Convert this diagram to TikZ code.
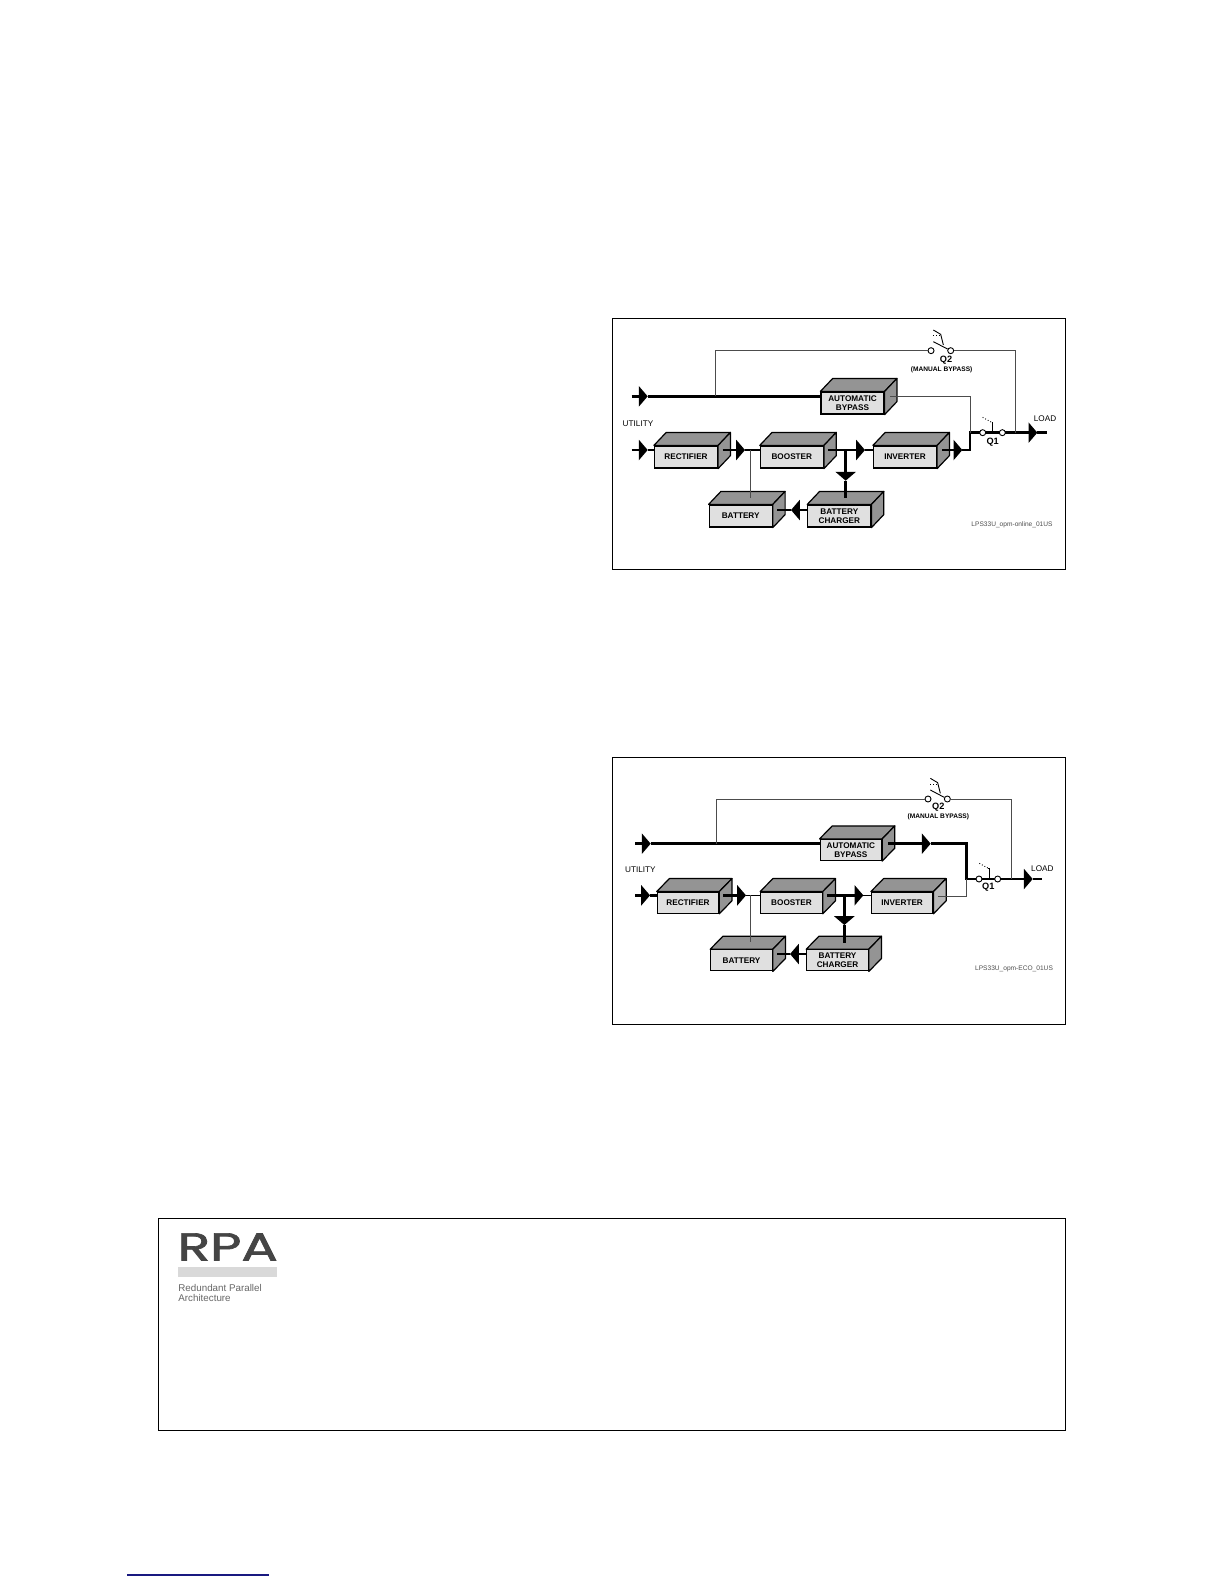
\documentclass[tikz,border=0pt]{standalone}
\usepackage{fontspec}
\setmainfont{Liberation Sans}
\newfontfamily\logofont[FakeBold=1.6]{Poppins}
\usepackage{xcolor}
\definecolor{boxdark}{gray}{0.58}
\definecolor{boxside}{gray}{0.72}
\definecolor{boxfront}{gray}{0.88}
\definecolor{thingray}{gray}{0.3}
\definecolor{logobar}{gray}{0.85}
\definecolor{logotext}{gray}{0.27}
\definecolor{logosmall}{gray}{0.4}
\definecolor{linkblue}{rgb}{0.1,0.1,0.5}
\usepackage{tikz}
\usetikzlibrary{arrows.meta,calc}

\tikzset{
    upsbox/.style={draw=black, line width=0.6pt, fill=boxfront, inner sep=0pt, align=center,
        font=\fontsize{4.1}{4.6}\selectfont\bfseries},
    boxskin/.style={draw=black, line width=0.6pt, line join=round},
    powerline/.style={line width=1.3pt, line join=miter},
    midline/.style={line width=0.75pt},
    signalline/.style={line width=0.45pt, draw=thingray},
    flowtip/.style={-{Triangle[length=4.4pt,width=10pt,sep=0pt]}},
    switchring/.style={circle, draw=black, line width=0.45pt, fill=white, minimum size=3pt, inner sep=0pt},
    lever/.style={line width=0.45pt},
    tinylabel/.style={inner sep=0pt, font=\fontsize{4.1}{4.6}\selectfont},
    boldlabel/.style={inner sep=0pt, font=\fontsize{4.6}{5}\selectfont\bfseries},
    smallbold/.style={inner sep=0pt, font=\fontsize{3.3}{4}\selectfont\bfseries},
    filelabel/.style={inner sep=0pt, text=thingray, font=\fontsize{3.3}{4}\selectfont},
    zoomcoords/.style={x=0.16667pt, y=-0.16667pt}
}

% box with its top and side faces: [side colour]{name}{x}{y}{text}
\newcommand{\upsbox}[5][boxdark]{
    \node[upsbox, boxsize] (#2) at (#3,#4) {#5};
    \draw[boxskin, fill=boxdark] (#2.north west) -- ++(\boxdx,-39) -- ($(#2.north east)+(\boxdx,-39)$)
        -- (#2.north east) -- cycle;
    \draw[boxskin, fill=#1] (#2.north east) -- ++(\boxdx,-39) -- ($(#2.south east)+(\boxdx,-39)$)
        -- (#2.south east) -- cycle;
}

\begin{document}
\begin{tikzpicture}[x=0.5pt, y=-0.5pt]
    \useasboundingbox (0,0) rectangle (1224,1584);

    % Frames and link rule
    \draw[line width=0.5pt] (612.7,318.3) rectangle (1065.7,569.7);
    \draw[line width=0.5pt] (612.7,757.7) rectangle (1065.7,1024.3);
    \draw[line width=0.5pt] (158.3,1218.3) rectangle (1065.7,1430);
    \draw[line width=0.6pt, linkblue] (127,1575) -- (269,1575);

    % RPA logo
    \fill[logobar] (178.3,1266.7) rectangle (277.3,1277.3);
    \node[anchor=base west, inner sep=0pt, xscale=1.38, text=logotext, font=\fontsize{19.5}{20}\logofont\selectfont] (logoName) at (177,1260.5) {RPA};
    \node[anchor=west, inner sep=0pt, text=logosmall, align=left, font=\fontsize{4.9}{5.4}\selectfont] (logoText) at (178,1293) {Redundant Parallel\\Architecture};

    % Online mode
    \begin{scope}[shift={(610,315)}, zoomcoords,
        boxsize/.style={minimum width=31.5pt, minimum height=11pt}]
        \def\boxdx{37}
        \upsbox{bypassA}{727.5}{264}{AUTOMATIC\\BYPASS}
        \upsbox{rectA}{228}{426}{RECTIFIER}
        \upsbox{boostA}{545.5}{426}{BOOSTER}
        \upsbox{invA}{885}{426}{INVERTER}
        \upsbox{battA}{392}{603}{BATTERY}
        \upsbox{chargeA}{688}{603}{BATTERY\\CHARGER}

        \coordinate (inTopA) at (65,244);
        \coordinate (tipTopA) at (113,244);
        \coordinate (inLowA) at (65,405);
        \coordinate (tipLowA) at (113,405);
        \coordinate (rectOutA) at (338,405);
        \coordinate (tipRectA) at (405,405);
        \coordinate (boostOutA) at (655,405);
        \coordinate (tipBoostA) at (765,405);
        \coordinate (invOutA) at (997,405);
        \coordinate (tipInvA) at (1057,405);
        \coordinate (riseA) at (1080,353);
        \coordinate (tipLoadA) at (1282,353);
        \coordinate (loadA) at (1310,353);
        \coordinate (forkA) at (707,405);
        \coordinate (tipForkA) at (707,497);
        \coordinate (chargeTopA) at (707,550);
        \coordinate (battTopA) at (420,550);
        \coordinate (chargeOutA) at (594,585);
        \coordinate (tipChargeA) at (543,585);
        \coordinate (battOutA) at (500,585);
        \coordinate (bypassOutA) at (840,244);
        \coordinate (tapA) at (315,244);
        \coordinate (q1PosA) at (1118,353);
        \coordinate (q1EndA) at (1177,353);
        \coordinate (junctionA) at (1217,353);

        \draw[powerline, flowtip] (inTopA) -- (tipTopA);
        \draw[powerline] (tipTopA) -- (tipTopA -| bypassA.west);
        \draw[powerline, flowtip] (inLowA) -- (tipLowA);
        \draw[powerline] (tipLowA) -- (tipLowA -| rectA.west);
        \draw[powerline, flowtip] (rectOutA) -- (tipRectA);
        \draw[midline] (tipRectA) -- (tipRectA -| boostA.west);
        \draw[powerline, flowtip] (boostOutA) -- (tipBoostA);
        \draw[midline] (tipBoostA) -- (tipBoostA -| invA.west);
        \draw[powerline, flowtip] (invOutA) -- (tipInvA);
        \draw[powerline, flowtip] (forkA) -- (tipForkA);
        \draw[powerline] (tipForkA) -- (chargeTopA);
        \draw[powerline, flowtip] (chargeOutA) -- (tipChargeA);
        \draw[powerline] (tipChargeA) -- (battOutA);
        \draw[signalline] (tipRectA -| battTopA) -- (battTopA);
        \draw[powerline] (tipInvA) -- (riseA |- tipInvA) -- (riseA) -- (q1EndA) -- (junctionA);
        \draw[powerline, flowtip] (junctionA) -- (tipLoadA);
        \draw[powerline] (tipLoadA) -- (loadA);
        \draw[signalline] (bypassOutA) -- (bypassOutA -| riseA) -- (riseA);

        % Switches
        \node[switchring] (q2aA) at (963,107) {};
        \node[switchring] (q2bA) at (1022,107) {};
        \node[switchring] (q1aA) at (q1PosA) {};
        \node[switchring] (q1bA) at (q1EndA) {};
        \draw[signalline] (tapA) -- (tapA |- q2aA) -- (q2aA);
        \draw[signalline] (q2bA) -- (q2bA -| junctionA) -- (junctionA);
        \draw[lever] (970,80) -- (q2bA);
        \draw[lever] (970,45) -- (992,58) -- (1000,90);
        \draw[lever, densely dotted] (970,62) -- (990,62);
        \draw[lever, densely dotted] (1118,307) -- (1145,322);
        \draw[lever] (1145,322) -- (1148,322) -- (1148,350);

        % Labels
        \node[tinylabel] (utilityA) at (84,325) {UTILITY};
        \node[tinylabel] (loadTextA) at (1305,310) {LOAD};
        \node[boldlabel] (q1TextA) at (1148,382) {Q1};
        \node[boldlabel] (q2TextA) at (1008,137) {Q2};
        \node[smallbold] (manualA) at (995,163) {(MANUAL BYPASS)};
        \node[filelabel] (fileA) at (1206,628) {LPS33U\_opm-online\_01US};
    \end{scope}

    % ECO mode
    \begin{scope}[shift={(610,755)}, zoomcoords,
        boxsize/.style={minimum width=30.7pt, minimum height=10.5pt}]
        \def\boxdx{38}
        \upsbox{bypassB}{722.5}{285}{AUTOMATIC\\BYPASS}
        \upsbox{rectB}{234}{443}{RECTIFIER}
        \upsbox{boostB}{544.5}{443}{BOOSTER}
        \upsbox[boxside]{invB}{876.5}{443}{INVERTER}
        \upsbox{battB}{394.5}{616}{BATTERY}
        \upsbox{chargeB}{682.5}{616}{BATTERY\\CHARGER}

        \coordinate (inTopB) at (75,266);
        \coordinate (tipTopB) at (122,266);
        \coordinate (bypassOutB) at (835,266);
        \coordinate (tipBypassB) at (962,266);
        \coordinate (dropB) at (1070,372);
        \coordinate (inLowB) at (75,421);
        \coordinate (tipLowB) at (120,421);
        \coordinate (rectOutB) at (340,421);
        \coordinate (tipRectB) at (408,421);
        \coordinate (boostOutB) at (652,421);
        \coordinate (tipBoostB) at (760,421);
        \coordinate (invOutB) at (985,423);
        \coordinate (forkB) at (703,421);
        \coordinate (tipForkB) at (703,510);
        \coordinate (chargeTopB) at (703,565);
        \coordinate (battTopB) at (420,562);
        \coordinate (chargeOutB) at (590,597);
        \coordinate (tipChargeB) at (540,597);
        \coordinate (battOutB) at (502,597);
        \coordinate (tapB) at (318,266);
        \coordinate (q1PosB) at (1107,372);
        \coordinate (q1EndB) at (1163,372);
        \coordinate (junctionB) at (1203,372);
        \coordinate (tipLoadB) at (1268,372);
        \coordinate (loadB) at (1295,372);

        \draw[powerline, flowtip] (inTopB) -- (tipTopB);
        \draw[powerline] (tipTopB) -- (tipTopB -| bypassB.west);
        \draw[powerline, flowtip] (bypassOutB) -- (tipBypassB);
        \draw[powerline, flowtip] (inLowB) -- (tipLowB);
        \draw[powerline] (tipLowB) -- (tipLowB -| rectB.west);
        \draw[powerline, flowtip] (rectOutB) -- (tipRectB);
        \draw[midline] (tipRectB) -- (tipRectB -| boostB.west);
        \draw[powerline, flowtip] (boostOutB) -- (tipBoostB);
        \draw[midline] (tipBoostB) -- (tipBoostB -| invB.west);
        \draw[powerline, flowtip] (forkB) -- (tipForkB);
        \draw[powerline] (tipForkB) -- (chargeTopB);
        \draw[powerline, flowtip] (chargeOutB) -- (tipChargeB);
        \draw[powerline] (tipChargeB) -- (battOutB);
        \draw[signalline] (tipRectB -| battTopB) -- (battTopB);
        \draw[powerline] (tipBypassB) -- (tipBypassB -| dropB) -- (dropB) -- (q1EndB) -- (junctionB);
        \draw[powerline, flowtip] (junctionB) -- (tipLoadB);
        \draw[powerline] (tipLoadB) -- (loadB);
        \draw[signalline] (invOutB) -- (invOutB -| dropB) -- (dropB);

        % Switches
        \node[switchring] (q2aB) at (954,132) {};
        \node[switchring] (q2bB) at (1012,132) {};
        \node[switchring] (q1aB) at (q1PosB) {};
        \node[switchring] (q1bB) at (q1EndB) {};
        \draw[signalline] (tapB) -- (tapB |- q2aB) -- (q2aB);
        \draw[signalline] (q2bB) -- (q2bB -| junctionB) -- (junctionB);
        \draw[lever] (961,105) -- (q2bB);
        \draw[lever] (961,70) -- (983,83) -- (991,115);
        \draw[lever, densely dotted] (961,87) -- (981,87);
        \draw[lever, densely dotted] (1108,325) -- (1135,340);
        \draw[lever] (1135,340) -- (1137,340) -- (1137,369);

        % Labels
        \node[tinylabel] (utilityB) at (91,343) {UTILITY};
        \node[tinylabel] (loadTextB) at (1297,340) {LOAD};
        \node[boldlabel] (q1TextB) at (1135,398) {Q1};
        \node[boldlabel] (q2TextB) at (985,158) {Q2};
        \node[smallbold] (manualB) at (985,185) {(MANUAL BYPASS)};
        \node[filelabel] (fileB) at (1212,642) {LPS33U\_opm-ECO\_01US};
    \end{scope}
\end{tikzpicture}
\end{document}
